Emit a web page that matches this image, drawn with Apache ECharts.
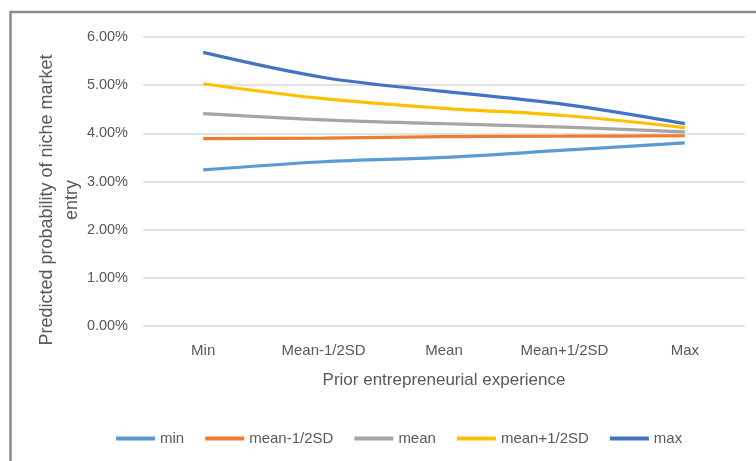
<!DOCTYPE html>
<html>
<head>
<meta charset="utf-8">
<script src="https://cdn.jsdelivr.net/npm/echarts@6/dist/echarts.min.js"></script>
<style>
  html, body { margin: 0; padding: 0; background: #ffffff; }
  #chart { width: 756px; height: 461px; }
</style>
</head>
<body>
<div id="chart"></div>
<script>
// Experience levels along the x axis
const categories = ['Min', 'Mean-1/2SD', 'Mean', 'Mean+1/2SD', 'Max'];

// Predicted probability (in %) for each moderator level
const seriesNames = ['min', 'mean-1/2SD', 'mean', 'mean+1/2SD', 'max'];
const minValues      = [3.24, 3.41, 3.50, 3.65, 3.80];
const meanMinusHalf  = [3.89, 3.90, 3.93, 3.94, 3.95];
const meanValues     = [4.41, 4.28, 4.20, 4.13, 4.03];
const meanPlusHalf   = [5.03, 4.72, 4.52, 4.37, 4.12];
const maxValues      = [5.68, 5.16, 4.87, 4.60, 4.20];

// Y axis ticks
const yTicks = [0, 1, 2, 3, 4, 5, 6];

const seriesData = [minValues, meanMinusHalf, meanValues, meanPlusHalf, maxValues];
const colors = ['#5B9BD5', '#ED7D31', '#A5A5A5', '#FFC000', '#4472C4'];

const FONT = "'Liberation Sans', Arial, sans-serif";
const TEXT = '#595959';

const chart = echarts.init(document.getElementById('chart'), null, { renderer: 'canvas' });

chart.setOption({
  animation: false,
  backgroundColor: '#ffffff',
  color: colors,
  textStyle: { fontFamily: FONT, color: TEXT },
  grid: { left: 143, right: 11, top: 37, bottom: 135, containLabel: false },
  graphic: [
    {
      type: 'rect',
      shape: { x: 10.5, y: 12, width: 820, height: 520 },
      style: { fill: 'none', stroke: '#8c8c8c', lineWidth: 2.5 },
      silent: true
    },
    {
      type: 'text',
      x: 60, y: 200,
      rotation: Math.PI / 2,
      style: {
        text: 'Predicted probability of niche market\nentry',
        font: '18px ' + FONT,
        fill: TEXT,
        align: 'center',
        verticalAlign: 'middle',
        lineHeight: 25
      },
      silent: true
    }
  ],
  legend: {
    data: seriesNames,
    left: 111,
    top: 426,
    icon: 'rect',
    itemWidth: 39,
    itemHeight: 4,
    itemGap: 21,
    textStyle: { fontFamily: FONT, fontSize: 15, color: TEXT }
  },
  xAxis: {
    type: 'category',
    data: categories,
    boundaryGap: true,
    name: 'Prior entrepreneurial experience',
    nameLocation: 'middle',
    nameGap: 46,
    nameTextStyle: { fontFamily: FONT, fontSize: 17, color: TEXT },
    axisLine: { show: false },
    axisTick: { show: false },
    axisLabel: { fontFamily: FONT, fontSize: 15, color: TEXT, margin: 17, interval: 0 }
  },
  yAxis: {
    type: 'value',
    min: yTicks[0],
    max: yTicks[yTicks.length - 1],
    interval: 1,
    axisLine: { show: false },
    axisTick: { show: false },
    axisLabel: {
      fontFamily: FONT, fontSize: 14.5, color: TEXT, margin: 15,
      formatter: v => v.toFixed(2) + '%'
    },
    splitLine: { lineStyle: { color: '#d9d9d9', width: 1.5 } }
  },
  series: seriesNames.map((name, i) => ({
    name: name,
    type: 'line',
    data: seriesData[i],
    smooth: 0.35,
    showSymbol: false,
    symbol: 'none',
    lineStyle: { width: 3.2, color: colors[i] },
    itemStyle: { color: colors[i] }
  }))
});
</script>
</body>
</html>
